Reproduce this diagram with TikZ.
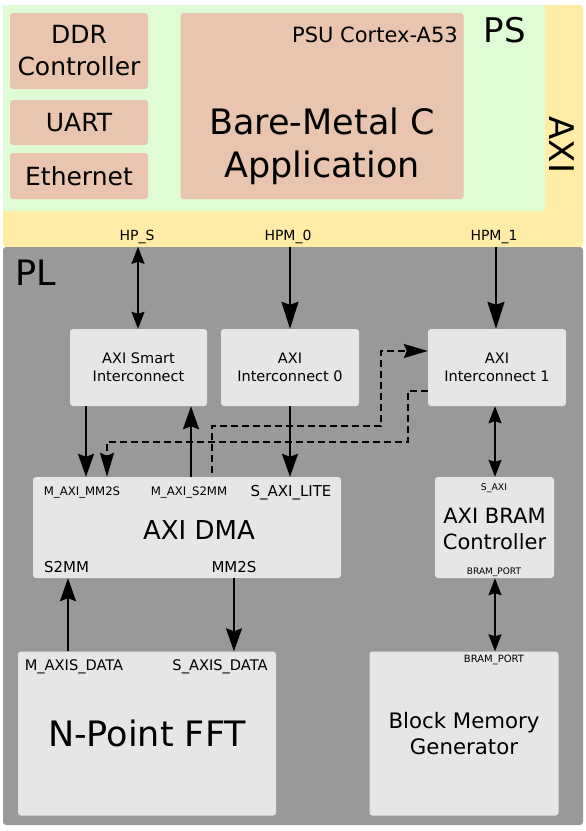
\documentclass[tikz,border=0pt]{standalone}
\usepackage{fontspec}
\setmainfont{DejaVu Sans}
\usetikzlibrary{arrows.meta,positioning}
\definecolor{psgreen}{RGB}{224,252,214}
\definecolor{axiyellow}{RGB}{255,236,166}
\definecolor{psbrown}{RGB}{233,196,174}
\definecolor{plgrey}{RGB}{153,153,153}
\definecolor{plbox}{RGB}{230,230,230}
\newcommand{\fs}[2]{\fontsize{#1}{#2}\selectfont}
\tikzset{
    %Define style for the background regions
    region/.style={
           rectangle,
           draw=none,
           rounded corners=3pt,
           inner sep=0pt},
    %Define style for PS boxes
    psblock/.style={
           rectangle,
           fill=psbrown,
           rounded corners=3pt,
           inner sep=0pt,
           align=center,
           font=\fs{25}{32}},
    %Define style for PL boxes
    block/.style={
           rectangle,
           fill=plbox,
           rounded corners=3pt,
           inner sep=0pt,
           align=center},
    %Define style for port labels
    port/.style={inner sep=0pt},
    % Define arrow styles
    arrow/.style={
           -{Stealth[length=23pt,width=16pt,inset=3pt]},
           line width=2pt},
    bigarrow/.style={
           -{Stealth[length=27pt,width=17pt,inset=3pt]},
           line width=2pt},
    dblarrow/.style={
           {Stealth[length=17pt,width=13pt,inset=2pt]}-{Stealth[length=17pt,width=13pt,inset=2pt]},
           line width=1.6pt},
    dasharrow/.style={
           -{Stealth[length=24pt,width=14pt,inset=3pt]},
           line width=1.6pt,
           dash pattern=on 7pt off 4pt}
}
\begin{document}
\begin{tikzpicture}[x=1pt, y=-1pt]
    \useasboundingbox (0,0) rectangle (586,831);

    % regions
    \node [region, fill=axiyellow, minimum width=580, minimum height=242] (AXI) at (293,126) {};
    \node [region, fill=psgreen, minimum width=542, minimum height=206, rounded corners=0pt] (PS) at (274,108) {};
    \node [region, fill=plgrey, minimum width=580, minimum height=578] (PL) at (293,536) {};
    \node [font=\fs{34}{40}] (PSlabel) at (505,30) {PS};
    \node [font=\fs{34}{40}, rotate=-90] (AXIlabel) at (562,145) {AXI};
    \node [font=\fs{35}{40}] (PLlabel) at (36,273) {PL};

    % PS side
    \node [psblock, minimum width=138, minimum height=76] (DDR) at (79,51) {DDR\\Controller};
    \node [psblock, minimum width=138, minimum height=45] (UART) at (79,122.5) {UART};
    \node [psblock, minimum width=138, minimum height=46] (Eth) at (79,176) {Ethernet};
    \node [psblock, minimum width=283, minimum height=186] (App) at (322,106) {};
    \node [port, anchor=east, font=\fs{21}{24}] (Cortex) at (458,35) {PSU Cortex-A53};
    \node [align=center, font=\fs{35}{43}] (AppText) at (322,146) {Bare-Metal C\\Application};

    % AXI ports
    \node [port, font=\fs{14}{16}] (HPS) at (137,237) {HP\_S};
    \node [port, font=\fs{14}{16}] (HPM0) at (288,237) {HPM\_0};
    \node [port, font=\fs{14}{16}] (HPM1) at (494,237) {HPM\_1};

    % PL blocks
    \node [block, minimum width=137, minimum height=77, font=\fs{14.5}{18}] (Smart) at (138.5,367.5) {AXI Smart\\Interconnect};
    \node [block, minimum width=138, minimum height=77, font=\fs{14.5}{18}] (IC0) at (290,367.5) {AXI\\Interconnect 0};
    \node [block, minimum width=138, minimum height=77, font=\fs{14.5}{18}] (IC1) at (497,367.5) {AXI\\Interconnect 1};
    \node [block, minimum width=308, minimum height=101] (DMA) at (187,527.5) {};
    \node [font=\fs{26}{30}] (DMAText) at (199,530) {AXI DMA};
    \node [block, minimum width=119, minimum height=101] (BRAM) at (494.5,527.5) {};
    \node [align=center, font=\fs{21}{26}] (BRAMText) at (494.5,529) {AXI BRAM\\Controller};
    \node [block, minimum width=258, minimum height=164, font=\fs{35}{40}] (FFT) at (147,733.5) {N-Point FFT};
    \node [block, minimum width=189, minimum height=164, font=\fs{21.3}{26}] (BMG) at (464,733.5) {Block Memory\\Generator};

    % port labels
    \node [port, font=\fs{11.7}{14}] (MAXIMM2S) at (82,493) {M\_AXI\_MM2S};
    \node [port, font=\fs{11.7}{14}] (MAXIS2MM) at (189,493) {M\_AXI\_S2MM};
    \node [port, font=\fs{15}{18}] (SAXILITE) at (291,493) {S\_AXI\_LITE};
    \node [port, font=\fs{15}{18}] (S2MM) at (66.5,567) {S2MM};
    \node [port, font=\fs{15}{18}] (MM2S) at (234,567) {MM2S};
    \node [port, font=\fs{9.3}{11}] (SAXI) at (494,488) {S\_AXI};
    \node [port, font=\fs{9}{11}] (BRAMPORTa) at (494,572) {BRAM\_PORT};
    \node [port, font=\fs{14.6}{17}] (MAXISDATA) at (74,667) {M\_AXIS\_DATA};
    \node [port, font=\fs{14.6}{17}] (SAXISDATA) at (220,667) {S\_AXIS\_DATA};
    \node [port, font=\fs{10}{12}] (BRAMPORTb) at (494,660) {BRAM\_PORT};

    % x positions of the connectors
    \coordinate (xhps) at (138,0);
    \coordinate (xhpm0) at (290,0);
    \coordinate (xhpm1) at (496,0);
    \coordinate (xmm2s) at (86,0);
    \coordinate (xdash) at (107,0);
    \coordinate (xs2mm) at (191,0);
    \coordinate (xsg) at (212,0);
    \coordinate (xbram) at (495,0);
    \coordinate (xfftout) at (68,0);
    \coordinate (xfftin) at (234,0);
    \coordinate (ic1in) at ([yshift=16.5pt]IC1.west);
    \coordinate (ic1out) at ([yshift=-23.5pt]IC1.west);

    \draw [dblarrow] (PL.north -| xhps) -- (Smart.north -| xhps);
    \draw [bigarrow] (PL.north -| xhpm0) -- (IC0.north -| xhpm0);
    \draw [bigarrow] (PL.north -| xhpm1) -- (IC1.north -| xhpm1);
    \draw [arrow] (Smart.south -| xmm2s) -- (DMA.north -| xmm2s);
    \draw [arrow] (DMA.north -| xs2mm) -- (Smart.south -| xs2mm);
    \draw [arrow] (IC0.south -| xhpm0) -- (DMA.north -| xhpm0);
    \draw [dasharrow] ([yshift=4pt]DMA.north -| xsg) |- (381,426) |- (ic1in);
    \draw [dasharrow] (ic1out) -| (408,442) -| (DMA.north -| xdash);
    \draw [dblarrow] (IC1.south -| xbram) -- (BRAM.north -| xbram);
    \draw [arrow] (FFT.north -| xfftout) -- (DMA.south -| xfftout);
    \draw [arrow] (DMA.south -| xfftin) -- (FFT.north -| xfftin);
    \draw [dblarrow] (BRAM.south -| xbram) -- (BMG.north -| xbram);
\end{tikzpicture}
\end{document}
